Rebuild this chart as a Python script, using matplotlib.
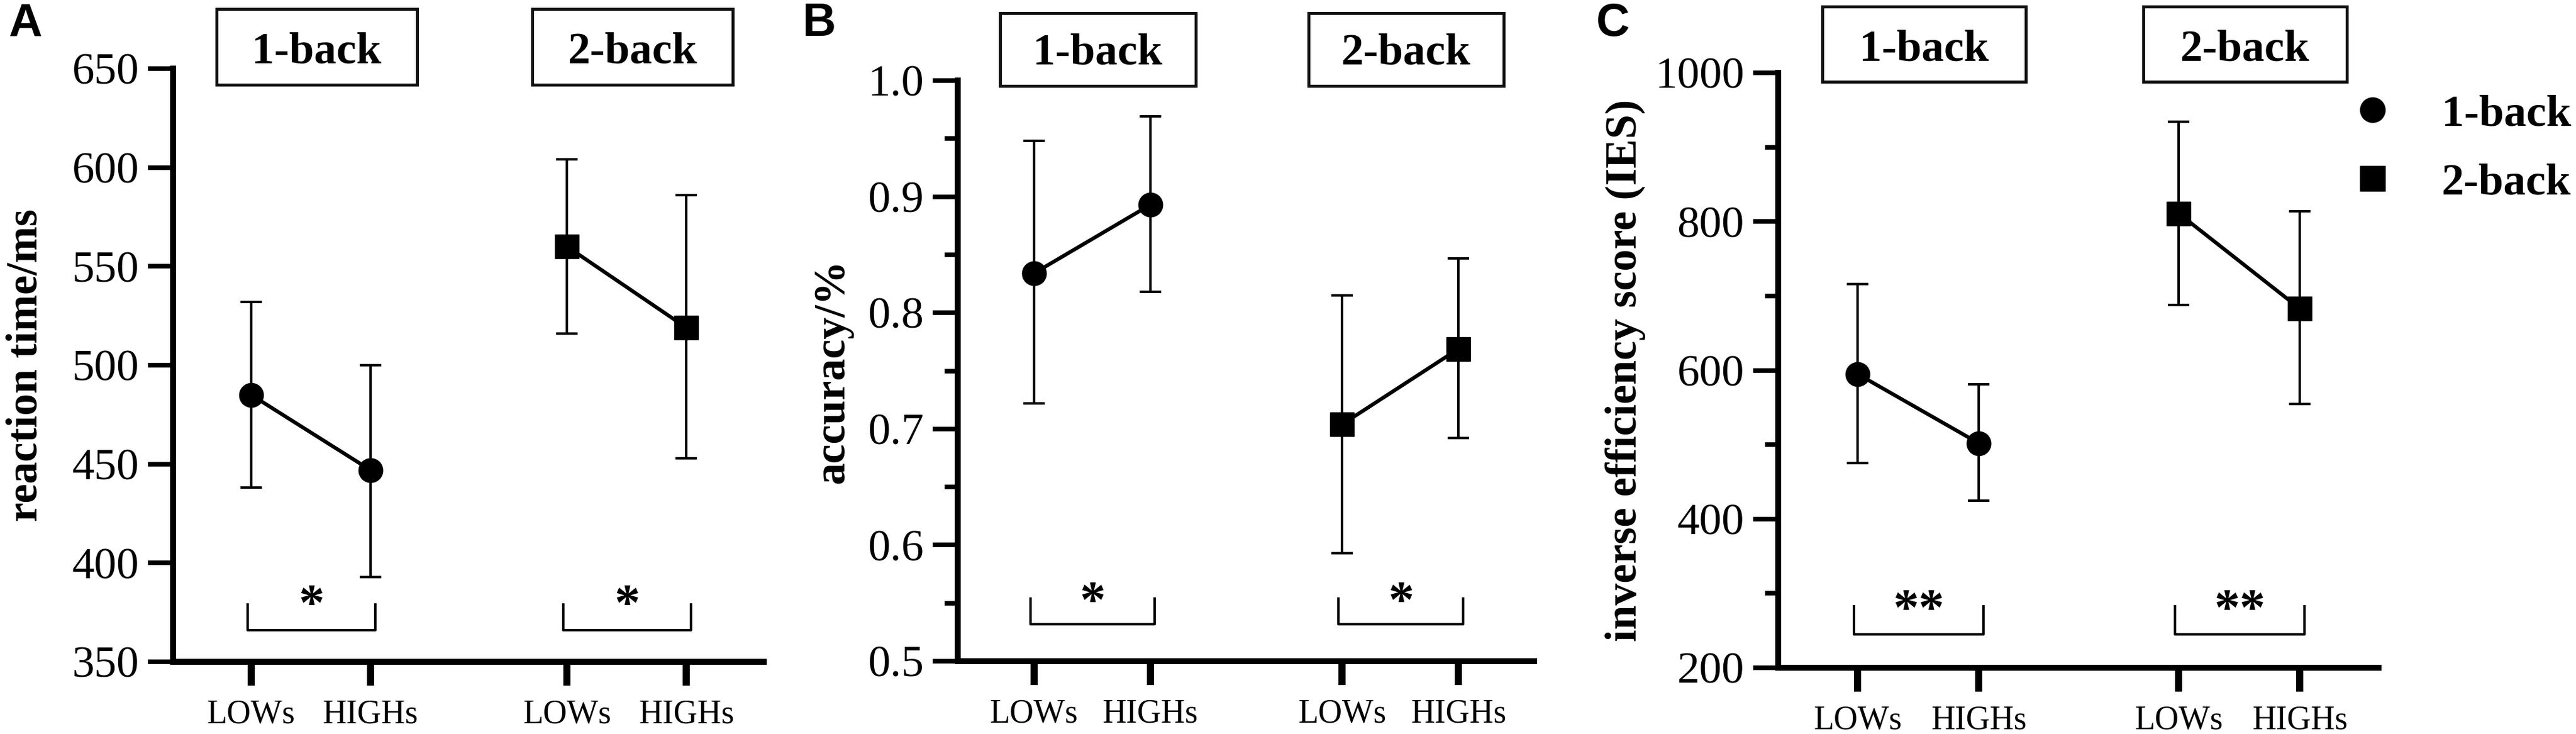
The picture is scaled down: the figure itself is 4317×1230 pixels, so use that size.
import numpy as np
import matplotlib
matplotlib.use('Agg')
import matplotlib.pyplot as plt
import matplotlib.transforms as mtransforms
from matplotlib.patches import Rectangle
from matplotlib.ticker import MultipleLocator, FormatStrFormatter

plt.rcParams['font.family'] = ['Liberation Serif', 'DejaVu Serif']

# ---- data ----
x_labels = ['LOWs', 'HIGHs', 'LOWs', 'HIGHs']
group_names = ['1-back', '2-back']
group_markers = ['o', 's']

# A: reaction time/ms
rt_mean_1back = [485, 447]
rt_lo_1back = [438, 393]
rt_hi_1back = [532, 500]
rt_mean_2back = [560, 519]
rt_lo_2back = [516, 453]
rt_hi_2back = [604, 586]
rt_sig = ['*', '*']

# B: accuracy/%
acc_mean_1back = [0.834, 0.893]
acc_lo_1back = [0.722, 0.818]
acc_hi_1back = [0.948, 0.969]
acc_mean_2back = [0.704, 0.769]
acc_lo_2back = [0.593, 0.692]
acc_hi_2back = [0.815, 0.847]
acc_sig = ['*', '*']

# C: inverse efficiency score (IES)
ies_mean_1back = [595, 502]
ies_lo_1back = [475, 425]
ies_hi_1back = [716, 581]
ies_mean_2back = [811, 683]
ies_lo_2back = [688, 555]
ies_hi_2back = [934, 814]
ies_sig = ['**', '**']

# ---- layout (pixels of a 4317x1230 canvas) ----
W, H = 4317, 1230
DPI = 100
x_pos = [[0, 1], [2.65, 3.65]]
XLIM = (-0.655, 4.3)

panels = [
    dict(letter='A', letter_x=14, ylabel='reaction time/ms', ylabel_x=44,
         rect=(290, 115, 1280, 1109), ylim=(350, 650), major=50, minor=None, fmt='%d',
         means=[rt_mean_1back, rt_mean_2back], los=[rt_lo_1back, rt_lo_2back],
         his=[rt_hi_1back, rt_hi_2back], sig=rt_sig,
         br=(366, 379, 384), box=(15, 142)),
    dict(letter='B', letter_x=1345, ylabel='accuracy/%', ylabel_x=1396,
         rect=(1605, 135, 2571, 1108), ylim=(0.5, 1.0), major=0.1, minor=0.05, fmt='%.1f',
         means=[acc_mean_1back, acc_mean_2back], los=[acc_lo_1back, acc_lo_2back],
         his=[acc_hi_1back, acc_hi_2back], sig=acc_sig,
         br=(0.532, 0.554, 0.560), box=(22, 144)),
    dict(letter='C', letter_x=2675, ylabel='inverse efficiency score (IES)', ylabel_x=2724,
         rect=(2980, 122, 3986, 1119), ylim=(200, 1000), major=200, minor=100, fmt='%d',
         means=[ies_mean_1back, ies_mean_2back], los=[ies_lo_1back, ies_lo_2back],
         his=[ies_hi_1back, ies_hi_2back], sig=ies_sig,
         br=(245, 283, 292), box=(11, 137)),
]

fig = plt.figure(figsize=(W / DPI, H / DPI), dpi=DPI)

for p in panels:
    l, t, r, b = p['rect']
    ax = fig.add_axes([l / W, 1 - b / H, (r - l) / W, (b - t) / H])
    ax.set_xlim(*XLIM)
    ax.set_ylim(*p['ylim'])

    for gi in range(2):
        xs = x_pos[gi]
        m = np.array(p['means'][gi])
        lo = np.array(p['los'][gi])
        hi = np.array(p['his'][gi])
        ax.errorbar(xs, m, yerr=[m - lo, hi - m], fmt='none', ecolor='k',
                    elinewidth=3, capsize=13, capthick=3, zorder=2)
        ax.plot(xs, m, color='k', lw=4.5, zorder=3)
        ax.plot(xs, m, ls='none', marker=group_markers[gi], ms=29, color='k',
                label=group_names[gi], zorder=4)

        # significance bracket
        y0, y1, ys = p['br']
        bx0, bx1 = xs[0] - 0.03, xs[1] + 0.04
        ax.plot([bx0, bx0, bx1, bx1], [y1, y0, y0, y1], color='k', lw=3,
                clip_on=False, zorder=2)
        ax.annotate(p['sig'][gi], xy=((bx0 + bx1) / 2, ys), xytext=(0, -30),
                    textcoords='offset points', ha='center', va='baseline',
                    fontsize=62, fontweight='bold')

        # group title box above the panel
        trans = mtransforms.blended_transform_factory(ax.transData, fig.transFigure)
        cx = (xs[0] + xs[1]) / 2 + 0.05
        bt, bb = p['box']
        ax.add_patch(Rectangle((cx - 0.84, 1 - bb / H), 1.68, (bb - bt) / H,
                               fill=False, lw=3.6, edgecolor='#111111',
                               transform=trans, clip_on=False))
        ax.text(cx, 1 - (bb - 36) / H, group_names[gi], transform=trans,
                ha='center', va='baseline', fontsize=54, fontweight='bold')

    ax.set_xticks(x_pos[0] + x_pos[1])
    ax.set_xticklabels(x_labels)
    ax.yaxis.set_major_locator(MultipleLocator(p['major']))
    ax.yaxis.set_major_formatter(FormatStrFormatter(p['fmt']))
    if p['minor']:
        ax.yaxis.set_minor_locator(MultipleLocator(p['minor']))
    for s in ['top', 'right']:
        ax.spines[s].set_visible(False)
    for s in ['left', 'bottom']:
        ax.spines[s].set_linewidth(7.2)
    ax.tick_params(axis='y', which='major', length=30, width=5.5, pad=11, labelsize=54)
    ax.tick_params(axis='y', which='minor', length=16, width=5.5)
    ax.tick_params(axis='x', length=29, width=8.6, pad=16, labelsize=40)

    fig.text(p['ylabel_x'] / W, 1 - ((t + b) / 2) / H, p['ylabel'], rotation=90,
             ha='center', va='center', fontsize=53, fontweight='bold')
    fig.text(p['letter_x'] / W, 1 - 3 / H, p['letter'], family='Liberation Sans',
             fontweight='bold', fontsize=56, va='top', ha='left')

    if p['letter'] == 'C':
        handles, labels = ax.get_legend_handles_labels()
        ax.legend(handles[:2], labels[:2], loc='upper left',
                  bbox_to_anchor=(3938 / W, 1 - 158 / H), bbox_transform=fig.transFigure,
                  frameon=False, handlelength=1.0, handletextpad=1.05, borderpad=0,
                  borderaxespad=0, labelspacing=0.62, numpoints=1, markerscale=30 / 29,
                  prop={'weight': 'bold', 'size': 54})

fig.savefig('out.png', dpi=DPI)
